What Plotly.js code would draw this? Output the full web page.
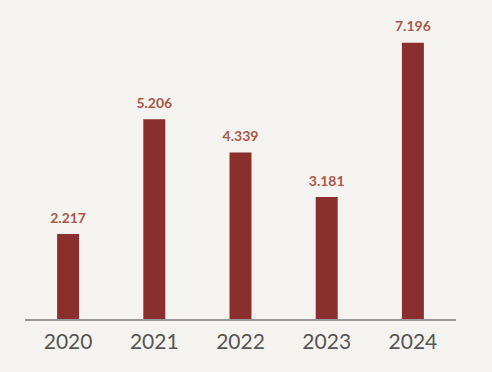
<!DOCTYPE html>
<html>
<head>
<meta charset="utf-8">
<script src="https://cdn.plot.ly/plotly-3.0.1.min.js"></script>
<style>html,body{margin:0;padding:0;background:#f5f3ef;}#chart{width:492px;height:372px;}</style>
</head>
<body>
<div id="chart"></div>
<script>
const years = ['2020', '2021', '2022', '2023', '2024'];
const values = [2.217, 5.206, 4.339, 3.181, 7.196];
const labels = ['2.217', '5.206', '4.339', '3.181', '7.196'];

const bars = {
  type: 'bar',
  x: years,
  y: values,
  width: 0.255,
  marker: {color: '#8b2e2e'},
  hoverinfo: 'none'
};

const valueLabels = {
  type: 'scatter',
  mode: 'markers+text',
  x: years,
  y: values,
  text: labels.map(s => '<b>' + s + '</b>'),
  textposition: 'top center',
  cliponaxis: false,
  textfont: {family: 'Lato, sans-serif', size: 14, color: '#a8584a'},
  marker: {size: 11, color: 'rgba(0,0,0,0)'},
  hoverinfo: 'none'
};

const layout = {
  width: 492, height: 372,
  margin: {l: 25, r: 36, t: 12, b: 53},
  paper_bgcolor: '#f5f3ef',
  plot_bgcolor: '#f5f3ef',
  showlegend: false,
  xaxis: {
    type: 'category',
    range: [-0.5, 4.5],
    showline: true, linecolor: '#999999', linewidth: 1.5,
    showgrid: false, zeroline: false,
    ticks: 'outside', ticklen: 3, tickcolor: 'rgba(0,0,0,0)',
    tickfont: {family: 'Lato, sans-serif', size: 21, color: '#555555'}
  },
  yaxis: {
    range: [0, 8],
    showline: false, showticklabels: false, ticks: '',
    showgrid: false, zeroline: false
  }
};

Plotly.newPlot('chart', [bars, valueLabels], layout, {displayModeBar: false, staticPlot: true});
</script>
</body>
</html>
